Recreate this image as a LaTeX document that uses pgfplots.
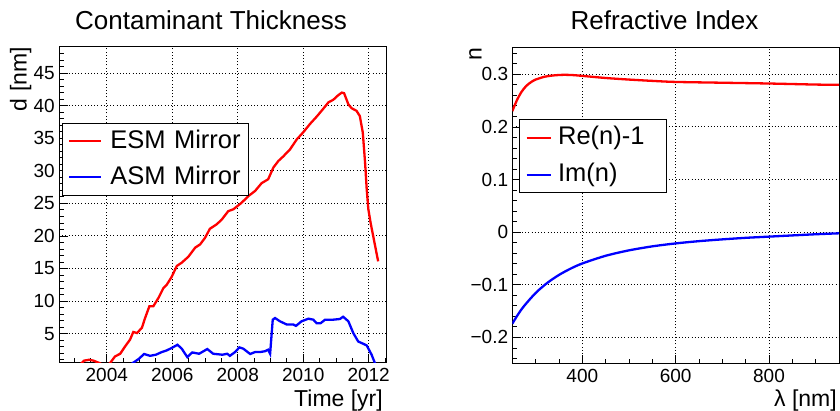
\documentclass[border=0pt]{standalone}
\usepackage{pgfplots}
\pgfplotsset{compat=1.18}
\usepackage{fontspec}
\setmainfont{Liberation Sans}
\begin{document}
\begin{tikzpicture}
\path[use as bounding box] (0pt,0pt) rectangle (840pt,411pt);
\pgfplotsset{
 rootstyle/.style={
  scale only axis,
  axis line style={line width=1pt},
  tick align=inside,
  tick pos=left,
  major tick length=9pt,
  minor tick length=5pt,
  every tick/.style={black, line width=0.8pt},
  grid=major,
  major grid style={black, line width=0.9pt, dash pattern=on 1pt off 2.2pt},
  /pgf/number format/assume math mode=true,
  ticklabel style={font=\fontsize{19}{19}\selectfont},
  yticklabel style={inner xsep=4pt},
  xticklabel style={yshift=-2pt},
  legend cell align=left,
 }
}
\begin{axis}[rootstyle, at={(59pt,48pt)}, anchor=south west, width=327pt, height=316pt,
  xmin=2002.54, xmax=2012.53, ymin=0.5, ymax=49,
  xtick={2004,2006,2008,2010,2012}, xticklabels={2004,2006,2008,2010,2012},
  ytick={5,10,...,45},
  minor xtick={2003,2003.5,...,2012.5},
  minor ytick={1,2,...,48},
  legend style={at={(0.008,0.76)}, anchor=north west, draw=black, line width=0.8pt, fill=white,
    font=\fontsize{25.5}{26}\selectfont, inner xsep=6pt, inner ysep=6pt, row sep=12pt,
    nodes={inner sep=0pt, text height=19pt, text depth=5pt},
    /tikz/every odd column/.append style={column sep=8pt},
    /tikz/every even column/.append style={text width=132pt}},
  legend image code/.code={\draw[#1] (0pt,0pt) -- (32pt,0pt);},
]
\addplot[red, line width=2.3pt] coordinates {
(2003.20,0.3) (2003.30,0.85) (2003.46,1.0) (2003.60,0.85) (2003.77,0.5) (2003.90,0.2) (2004.02,0.1)
(2004.10,0.49) (2004.25,1.5) (2004.41,1.92) (2004.56,3.05) (2004.71,4.08) (2004.81,5.26) (2004.92,5.1)
(2005.07,5.87) (2005.17,7.4) (2005.30,9.2) (2005.42,9.2) (2005.58,10.5) (2005.73,12.0) (2005.83,12.5)
(2005.98,13.7) (2006.14,15.4) (2006.29,15.9) (2006.49,16.8) (2006.70,18.2) (2006.85,18.7) (2007.00,19.7)
(2007.15,21.1) (2007.36,21.8) (2007.51,22.5) (2007.71,23.8) (2007.87,24.1) (2008.02,24.7) (2008.12,25.1)
(2008.32,26.1) (2008.53,26.9) (2008.73,28.1) (2008.93,28.7) (2009.09,30.5) (2009.24,31.5) (2009.39,32.2)
(2009.60,33.3) (2009.80,34.8) (2010.00,35.9) (2010.21,37.2) (2010.41,38.3) (2010.61,39.5) (2010.77,40.5)
(2010.92,40.9) (2011.07,41.6) (2011.18,42.0) (2011.25,41.9) (2011.38,40.2) (2011.48,39.6) (2011.63,39.2)
(2011.73,38.4) (2011.82,35.9) (2011.89,31.3) (2011.94,27.2) (2011.99,24.1) (2012.06,22.0) (2012.29,16.1)
};
\addlegendentry{ESM Mirror}
\addplot[blue, line width=2.3pt] coordinates {
(2004.70,0.0) (2004.79,0.49) (2004.97,1.1) (2005.14,1.88) (2005.32,1.6) (2005.50,1.77) (2005.68,2.18)
(2005.83,2.43) (2005.98,2.8) (2006.16,3.3) (2006.29,2.7) (2006.46,1.4) (2006.61,2.12) (2006.82,1.92)
(2007.07,2.64) (2007.25,1.92) (2007.53,1.77) (2007.68,1.92) (2007.76,1.6) (2007.92,2.18) (2008.05,2.9)
(2008.17,2.7) (2008.38,1.88) (2008.53,2.18) (2008.68,2.18) (2008.83,2.3) (2008.93,2.54) (2008.99,1.92)
(2009.07,7.15) (2009.14,7.4) (2009.29,6.9) (2009.50,6.4) (2009.70,6.4) (2009.78,6.2) (2009.95,6.9)
(2010.16,7.3) (2010.31,7.15) (2010.41,6.6) (2010.53,6.6) (2010.67,7.15) (2010.92,7.15) (2011.12,7.25)
(2011.22,7.6) (2011.38,6.9) (2011.53,5.1) (2011.68,3.8) (2011.83,3.46) (2011.94,3.2) (2012.09,1.77)
(2012.19,0.5) (2012.25,0.0)
};
\addlegendentry{ASM Mirror}
\end{axis}

\begin{axis}[rootstyle, at={(512.3pt,47.3pt)}, anchor=south west, width=326.7pt, height=315.7pt,
  xmin=250, xmax=950, ymin=-0.25, ymax=0.35,
  xtick={400,600,800}, xticklabels={400,600,800},
  ytick={-0.2,-0.1,0,0.1,0.2,0.3}, yticklabels={−0.2,−0.1,0,0.1,0.2,0.3},
  minor xtick={250,300,...,950},
  minor ytick={-0.24,-0.22,...,0.345},
  legend style={at={(0.0214,0.774)}, anchor=north west, draw=black, line width=0.8pt, fill=white,
    font=\fontsize{25.5}{26}\selectfont, inner xsep=5.7pt, inner ysep=6pt, row sep=13pt,
    nodes={inner sep=0pt, text height=19pt, text depth=5pt},
    /tikz/every odd column/.append style={column sep=6.4pt},
    /tikz/every even column/.append style={text width=103pt}},
  legend image code/.code={\draw[#1] (0pt,0pt) -- (24pt,0pt);},
]
\addplot[red, line width=2.3pt, smooth] coordinates {
(250,0.230) (260,0.251) (270,0.267) (280,0.278) (290,0.285) (300,0.290) (320,0.2955) (340,0.298)
(360,0.299) (380,0.2985) (400,0.297) (450,0.293) (500,0.290) (550,0.2875) (600,0.2855) (700,0.284)
(800,0.2825) (900,0.2805) (950,0.280)
};
\addlegendentry{Re(n)-1}
\addplot[blue, line width=2.3pt, smooth] coordinates {
(250,-0.1740) (262,-0.1567) (275,-0.1406) (300,-0.1156) (325,-0.0964) (350,-0.0813) (375,-0.0693)
(400,-0.0595) (450,-0.0449) (500,-0.0346) (550,-0.0270) (600,-0.0214) (650,-0.0171) (700,-0.0137)
(750,-0.0108) (800,-0.0085) (850,-0.0062) (900,-0.0040) (950,-0.0022)
};
\addlegendentry{Im(n)}
\end{axis}

\node[anchor=base, font=\fontsize{26}{30}\selectfont] at (211pt,381pt) {Contaminant Thickness};
\node[anchor=base, font=\fontsize{26}{30}\selectfont] at (664.5pt,381pt) {Refractive Index};
\node[rotate=90, anchor=base east, inner sep=0pt, font=\fontsize{23}{26}\selectfont] at (26.5pt,364pt) {d [nm]};
\node[rotate=90, anchor=base east, inner sep=0pt, font=\fontsize{23}{26}\selectfont] at (481.7pt,363.7pt) {n};
\node[anchor=base east, inner sep=0pt, font=\fontsize{23}{26}\selectfont] at (383pt,4.5pt) {Time [yr]};
\node[anchor=base east, inner sep=0pt, font=\fontsize{23}{26}\selectfont] at (837pt,4.5pt) {λ [nm]};
\end{tikzpicture}
\end{document}
